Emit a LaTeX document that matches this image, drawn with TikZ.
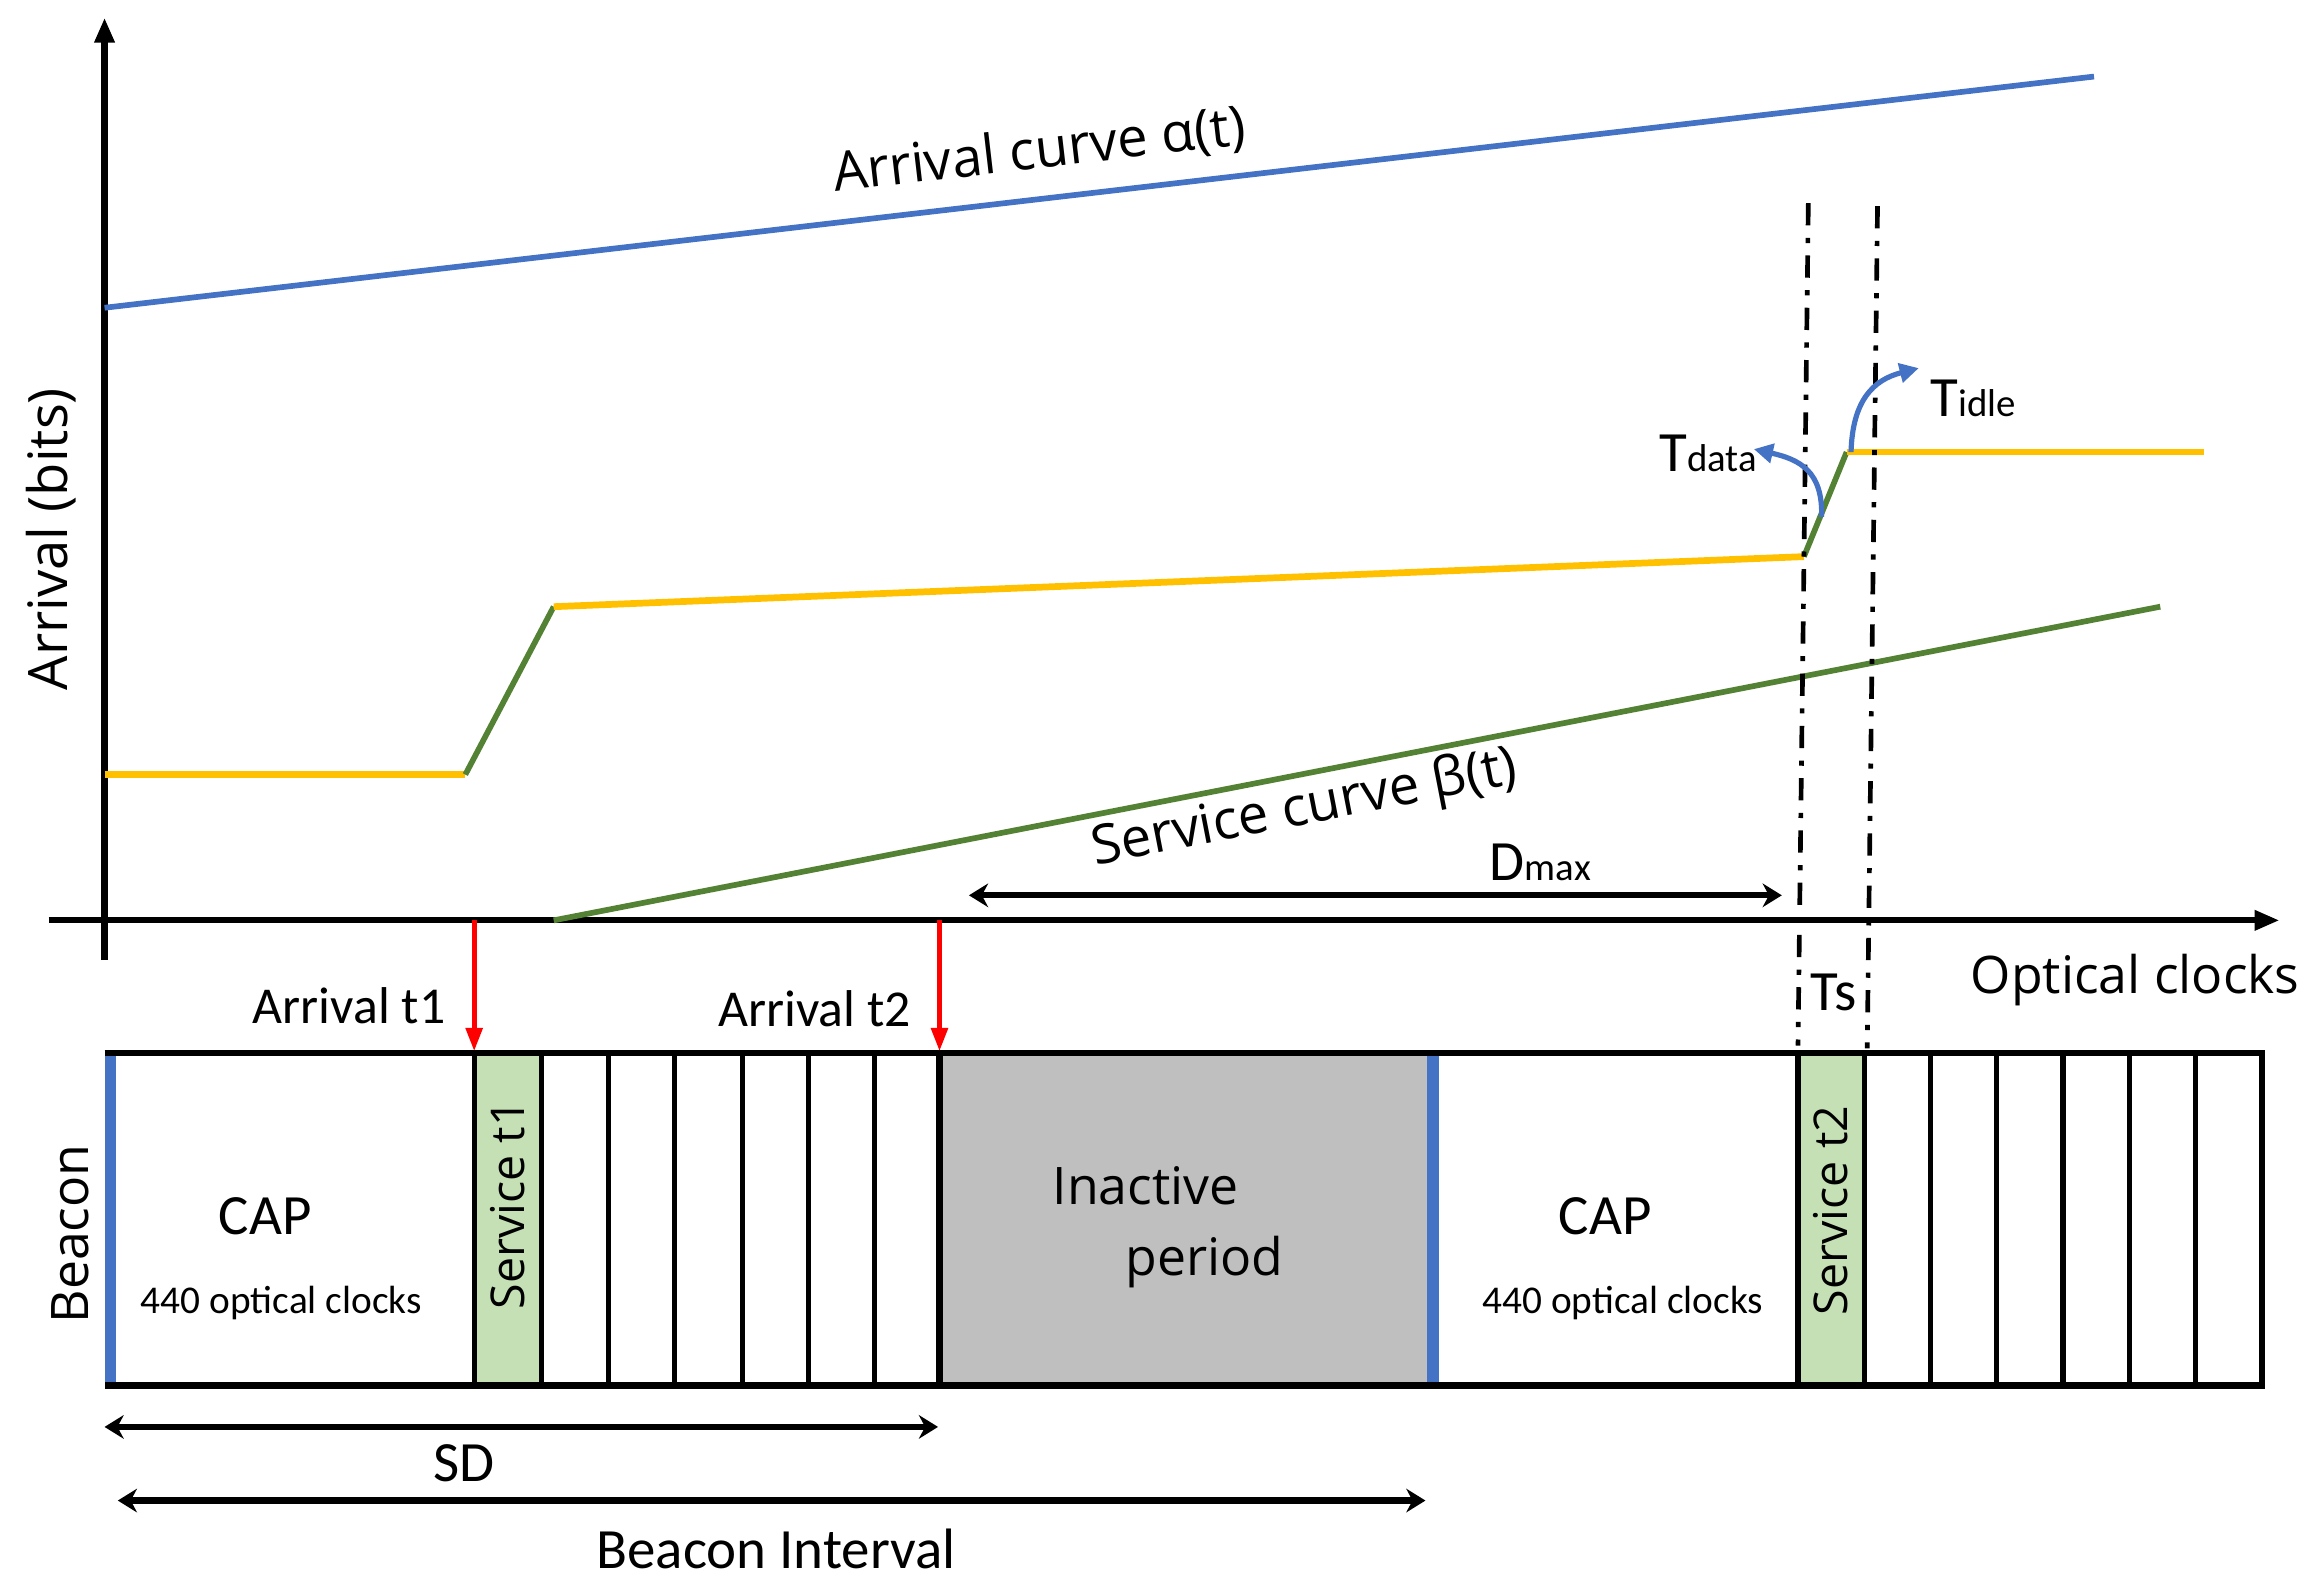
\documentclass[tikz,border=0pt]{standalone}
\usepackage{fontspec}
\setmainfont{Open Sans}
\newfontfamily\calfont{Carlito}
\usetikzlibrary{arrows.meta}

\definecolor{alphablue}{HTML}{4472C4}
\definecolor{curveyellow}{HTML}{FFC000}
\definecolor{curvegreen}{HTML}{548235}
\definecolor{slotgreen}{HTML}{C5E0B4}
\definecolor{idlegray}{HTML}{BFBFBF}

\newcommand{\lowtext}[1]{{\fontsize{7.5}{9}\selectfont #1}}

\tikzset{
    axis/.style={line width=1.2pt, -{Triangle[length=1.7mm,width=1.3mm]}},
    lbl/.style={inner sep=0pt, font=\fontsize{10}{12}\selectfont},
    cond/.style={inner sep=0pt, font=\calfont\fontsize{11}{13}\selectfont},
    dashdot/.style={line width=0.9pt, dash pattern=on 4.3pt off 2.4pt on 1pt off 2.4pt},
    dim/.style={line width=1.2pt, {Stealth[length=1.3mm,width=1.6mm]}-{Stealth[length=1.3mm,width=1.6mm]}},
    marker/.style={red, line width=1pt, -{Triangle[length=1.6mm,width=1.1mm]}},
    curlarrow/.style={alphablue, line width=1pt, -{Triangle[length=1.3mm,width=1.3mm]}},
    slot/.style={line width=1pt}
}

\begin{document}
\begin{tikzpicture}[x=0.1mm, y=-0.1mm]
    \useasboundingbox (0,0) rectangle (1568,1082);

    % axes
    \coordinate (1) at (71,652);
    \coordinate (2) at (71,12);
    \coordinate (3) at (33,625);
    \coordinate (4) at (1548,625);
    \draw [axis] (1) -- (2);
    \draw [axis] (3) -- (4);

    % arrival curve, traffic and service curve
    \coordinate (5) at (71,209);
    \coordinate (6) at (1422,52);
    \coordinate (7) at (71,526);
    \coordinate (8) at (316,526);
    \coordinate (9) at (376,412);
    \coordinate (10) at (1225,378);
    \coordinate (11) at (1254,307);
    \coordinate (12) at (1497,307);
    \coordinate (13) at (376,625);
    \coordinate (14) at (1467,412);

    \draw [alphablue, line width=1.1pt] (5) -- (6);
    \draw [curveyellow, line width=1.3pt] (7) -- (8);
    \draw [curvegreen, line width=1.1pt] (8) -- (9);
    \draw [curveyellow, line width=1.3pt] (9) -- (10);
    \draw [curvegreen, line width=1.1pt] (10) -- (11);
    \draw [curveyellow, line width=1.3pt] (11) -- (12);
    \draw [curvegreen, line width=1.1pt] (13) -- (14);

    % slot borders
    \coordinate (15) at (1228,138);
    \coordinate (16) at (1221,710);
    \coordinate (17) at (1275,140);
    \coordinate (18) at (1268,712);
    \draw [dashdot] (15) -- (16);
    \draw [dashdot] (17) -- (18);

    % T data and T idle
    \coordinate (19) at (1237,351);
    \coordinate (20) at (1191,305);
    \coordinate (21) at (1257,307);
    \coordinate (22) at (1303,250);
    \draw [curlarrow] (19) .. controls (1238,320) and (1222,312) .. (20);
    \draw [curlarrow] (21) .. controls (1258,272) and (1272,258) .. (22);

    % D max
    \coordinate (23) at (658,608);
    \coordinate (24) at (1210,608);
    \draw [dim] (23) -- (24);

    % arrivals
    \coordinate (25) at (322,625);
    \coordinate (26) at (322,714);
    \coordinate (27) at (638,625);
    \coordinate (28) at (638,714);
    \draw [marker] (25) -- (26);
    \draw [marker] (27) -- (28);

    % superframe
    \fill [idlegray] (638,715) rectangle (969,941);
    \fill [slotgreen] (322,715) rectangle (368,941);
    \fill [slotgreen] (1221,715) rectangle (1266,941);
    \fill [alphablue] (71,715) rectangle (79,941);
    \fill [alphablue] (969,715) rectangle (977,941);
    \draw [slot] (322,715) -- (322,941);
    \draw [slot] (368,715) -- (368,941);
    \draw [slot] (413,715) -- (413,941);
    \draw [slot] (458,715) -- (458,941);
    \draw [slot] (504,715) -- (504,941);
    \draw [slot] (549,715) -- (549,941);
    \draw [slot] (594,715) -- (594,941);
    \draw [line width=1.3pt] (638,715) -- (638,941);
    \draw [slot] (1221,715) -- (1221,941);
    \draw [slot] (1266,715) -- (1266,941);
    \draw [slot] (1311,715) -- (1311,941);
    \draw [slot] (1356,715) -- (1356,941);
    \draw [line width=1.2pt] (1401,715) -- (1401,941);
    \draw [slot] (1446,715) -- (1446,941);
    \draw [slot] (1491,715) -- (1491,941);
    \draw [line width=1.3pt] (71,715) -- (1536,715) -- (1536,941) -- (71,941);

    % SD and beacon interval
    \coordinate (29) at (71,969);
    \coordinate (30) at (637,969);
    \coordinate (31) at (80,1019);
    \coordinate (32) at (968,1019);
    \draw [dim] (29) -- (30);
    \draw [dim] (31) -- (32);

    % labels
    \node (40) [lbl, font=\fontsize{10.5}{12}\selectfont, rotate=90] at (35,366) {Arrival (bits)};
    \node (41) [lbl, anchor=base] at (1450,675) {Optical clocks};
    \node (42) [lbl, font=\fontsize{10.5}{12}\selectfont, rotate=6.6] at (706,103) {Arrival curve α(t)};
    \node (43) [lbl, font=\fontsize{10.5}{12}\selectfont, rotate=11] at (886,550) {Service curve β(t)};
    \node (44) [cond, anchor=base] at (1160,320) {T\lowtext{data}};
    \node (45) [cond, anchor=base] at (1340,283) {T\lowtext{idle}};
    \node (46) [cond, anchor=base] at (1046,598) {D\lowtext{max}};
    \node (47) [cond, anchor=base] at (1245,686) {Ts};
    \node (48) [cond, font=\calfont\fontsize{10}{12}\selectfont, anchor=base] at (237,695) {Arrival t1};
    \node (49) [cond, font=\calfont\fontsize{10}{12}\selectfont, anchor=base] at (553,697) {Arrival t2};

    \node (50) [lbl, rotate=90] at (48,838) {Beacon};
    \node (51) [cond, anchor=base] at (180,838) {CAP};
    \node (52) [cond, font=\calfont\fontsize{7.6}{9}\selectfont, anchor=base] at (191,892) {440 optical clocks};
    \node (53) [lbl, font=\fontsize{9}{11}\selectfont, rotate=90] at (345,818) {Service t1};
    \node (54) [lbl, anchor=base] at (778,818) {Inactive};
    \node (55) [lbl, anchor=base] at (818,866) {period};
    \node (56) [cond, anchor=base] at (1090,838) {CAP};
    \node (57) [cond, font=\calfont\fontsize{7.6}{9}\selectfont, anchor=base] at (1102,892) {440 optical clocks};
    \node (58) [lbl, font=\fontsize{9}{11}\selectfont, rotate=90] at (1243,822) {Service t2};

    \node (59) [cond, anchor=base] at (315,1006) {SD};
    \node (60) [cond, anchor=base] at (527,1065) {Beacon Interval};
\end{tikzpicture}
\end{document}
